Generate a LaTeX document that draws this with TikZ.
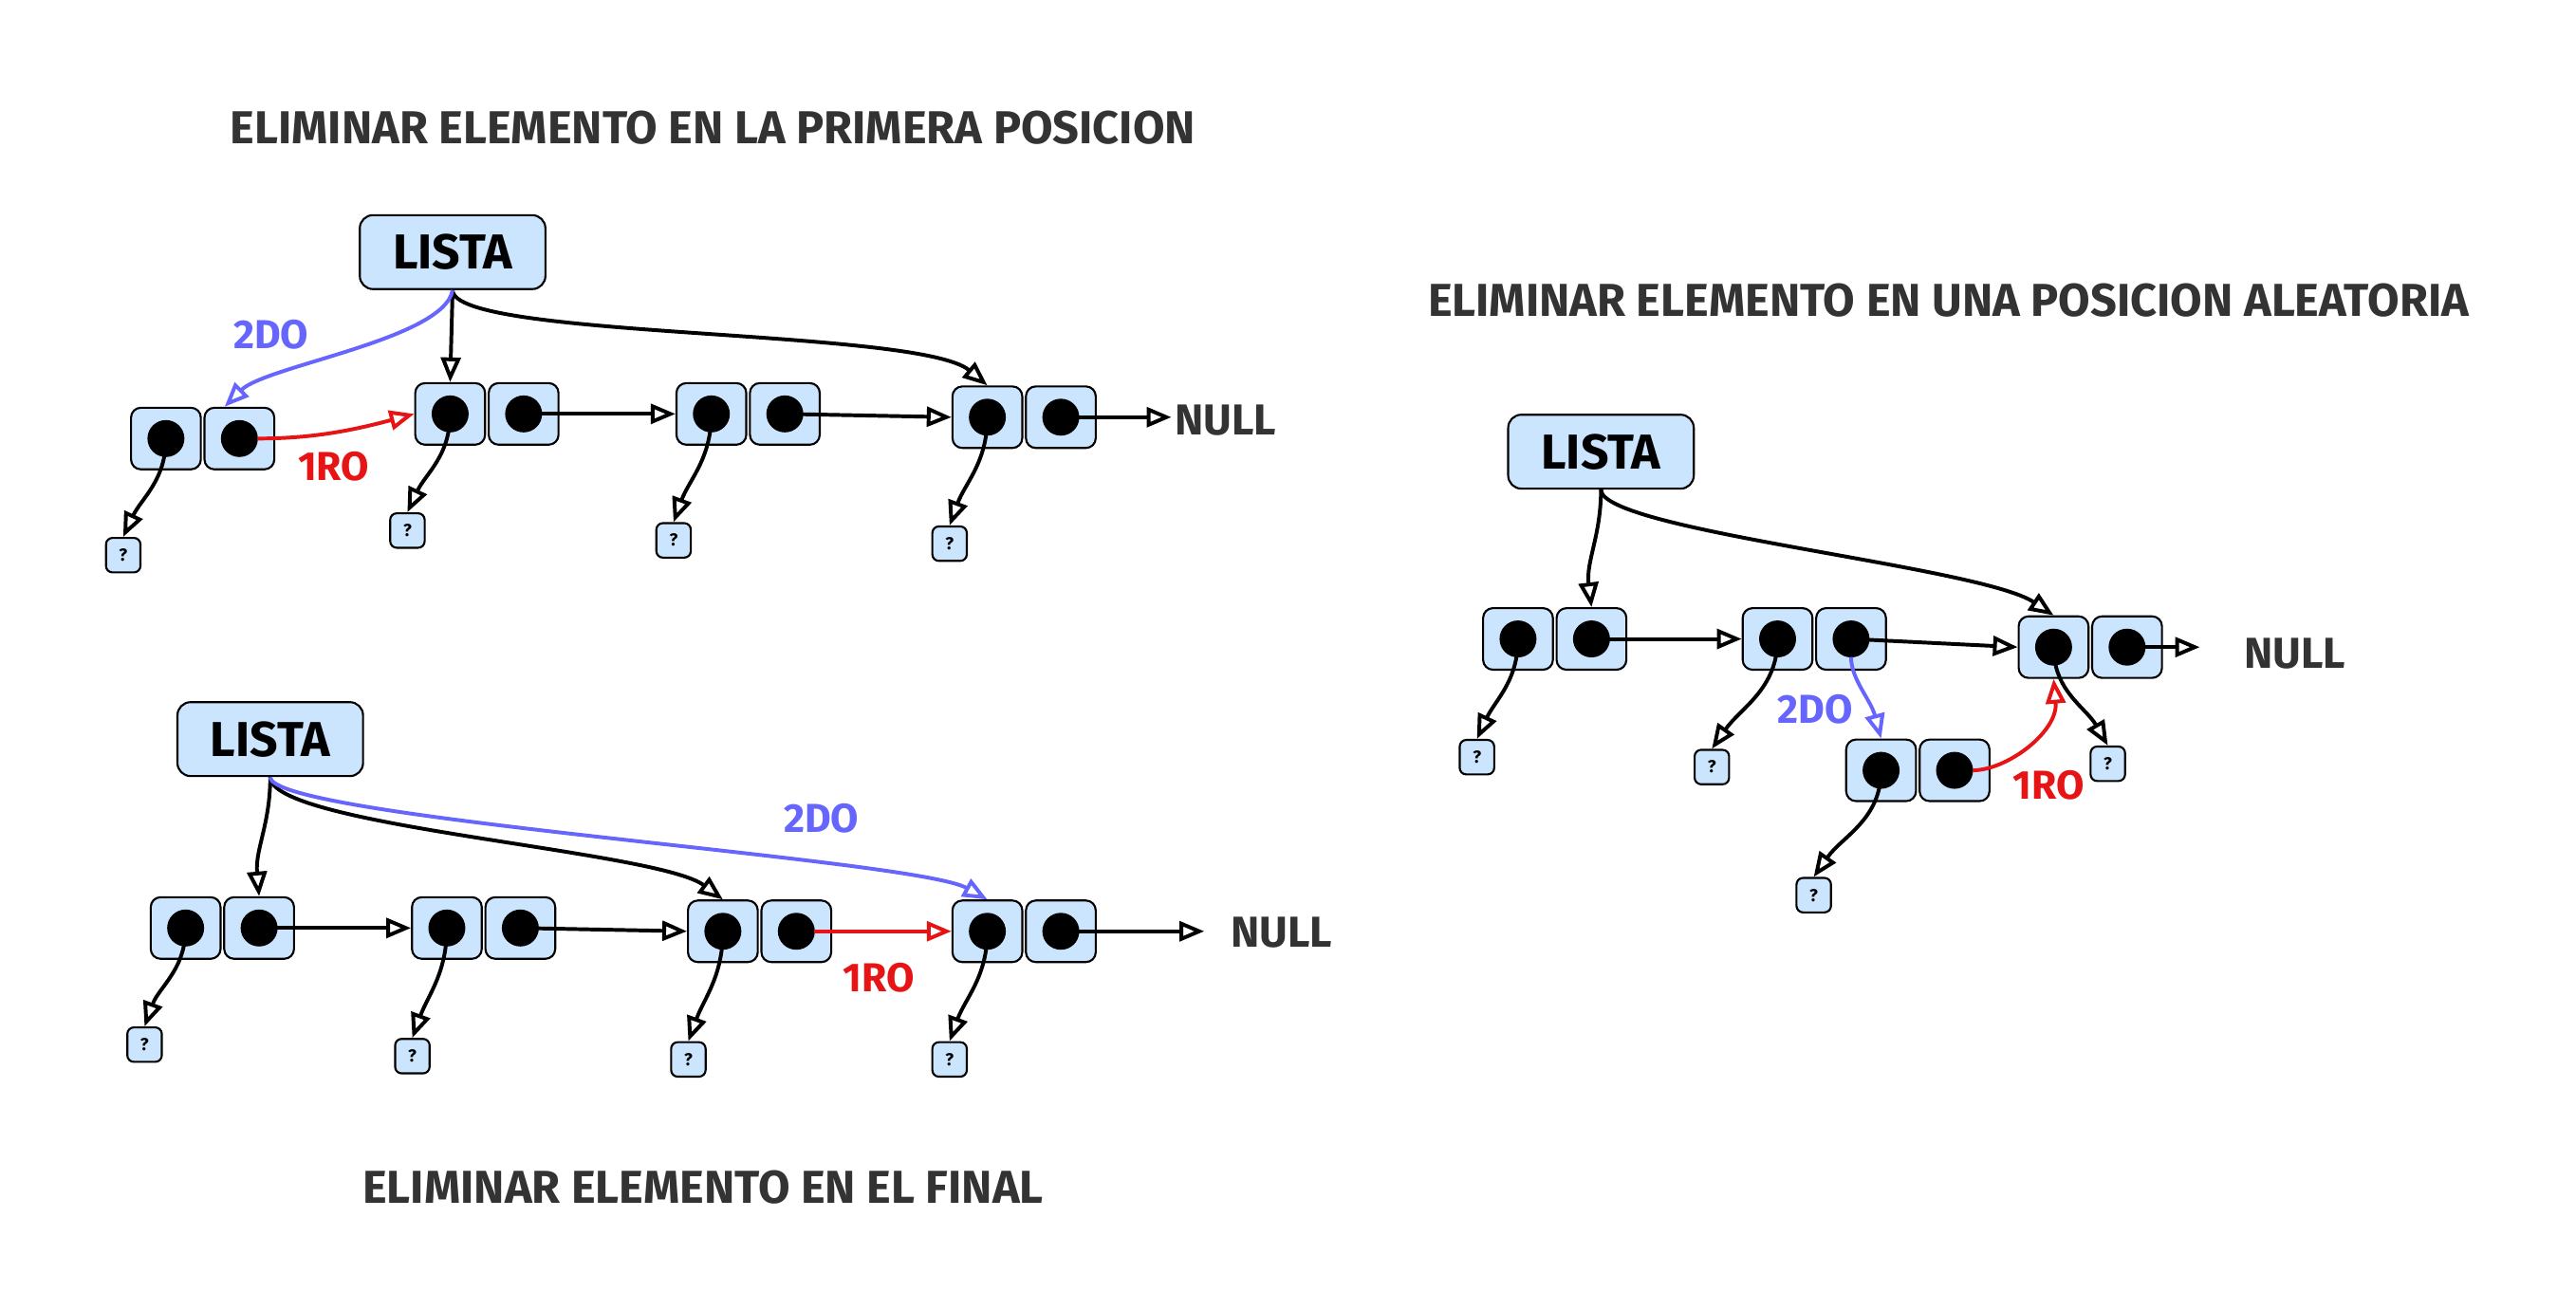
\documentclass[tikz,border=0pt]{standalone}
\usepackage{fontspec}
\setmainfont{Fira Sans}
\usepackage{xcolor}
\usetikzlibrary{arrows.meta, positioning}
\definecolor{AzulCelda}{RGB}{204,229,255}
\definecolor{AzulFlecha}{RGB}{102,102,255}
\definecolor{RojoFlecha}{RGB}{230,20,20}
\definecolor{GrisTitulo}{RGB}{51,51,51}

\begin{document}
\begin{tikzpicture}[
  x=0.02cm, y=0.02cm,
  celda/.style={rectangle, rounded corners=0.12cm, draw=black, line width=0.7pt,
                fill=AzulCelda, minimum width=0.85cm, minimum height=0.75cm,
                inner sep=0pt,
                path picture={\fill[black] (path picture bounding box.center) circle (0.225cm);}},
  incog/.style={rectangle, rounded corners=0.08cm, draw=black, line width=0.7pt,
                fill=AzulCelda, minimum size=0.42cm, inner sep=0pt,
                font=\fontsize{6}{7}\selectfont\bfseries},
  lista/.style={rectangle, rounded corners=0.16cm, draw=black, line width=0.7pt,
                fill=AzulCelda, minimum width=2.26cm, minimum height=0.9cm,
                font=\fontsize{17}{19}\selectfont\bfseries},
  titulo/.style={font=\fontsize{16}{18}\selectfont\bfseries, text=GrisTitulo},
  nulo/.style={font=\fontsize{15}{17}\selectfont\bfseries, text=GrisTitulo, inner sep=1pt},
  etiq/.style={font=\fontsize{14}{16}\selectfont\bfseries},
  flecha/.style={-{Triangle[open, length=0.3cm, width=0.24cm]}, line width=1.3pt},
  flechazul/.style={flecha, AzulFlecha, shorten <=0.22cm},
  flecharoja/.style={flecha, RojoFlecha, shorten <=0.22cm},
]
\useasboundingbox (0,0) rectangle (1568,-797);

% PRIMERA POSICION
\node[titulo] (ta) at (434,-78) {ELIMINAR ELEMENTO EN LA PRIMERA POSICION};
\node[lista] (la) at (275.5,-153.5) {LISTA};
\node[celda] (a0i) at (101,-267) {};
\node[celda, right=0.02cm of a0i] (a0d) {};
\node[celda] (a1i) at (274,-252) {};
\node[celda, right=0.02cm of a1i] (a1d) {};
\node[celda] (a2i) at (433,-252) {};
\node[celda, right=0.02cm of a2i] (a2d) {};
\node[celda] (a3i) at (601,-254) {};
\node[celda, right=0.02cm of a3i] (a3d) {};
\node[nulo, anchor=west] (na) at (713,-256) {NULL};
\node[incog] (a0q) at (75,-338) {?};
\node[incog] (a1q) at (248,-323) {?};
\node[incog] (a2q) at (410,-329) {?};
\node[incog] (a3q) at (578,-331) {?};
\node[etiq, AzulFlecha] (a2do) at (165,-204) {2DO};
\node[etiq, RojoFlecha] (a1ro) at (203,-284) {1RO};
\draw[flecha] (la.south) -- (a1i.north);
\draw[flecha] (la.south) .. controls +(0,-30) and +(-42,35) .. (a3i.north);
\draw[flecha, AzulFlecha] (la.south) .. controls +(-5,-30) and +(25,25) .. ([xshift=-0.18cm]a0d.north);
\draw[flecharoja] (a0d.center) to[out=0, in=195] (a1i.west);
\draw[flecha] (a1d.center) -- (a2i.west);
\draw[flecha] (a2d.center) -- (a3i.west);
\draw[flecha] (a3d.center) -- (a3d.center -| na.west);
\draw[flecha] (a0i.center) to[out=-90, in=65] (a0q.north);
\draw[flecha] (a1i.center) to[out=-90, in=65] (a1q.north);
\draw[flecha] (a2i.center) to[out=-90, in=70] (a2q.north);
\draw[flecha] (a3i.center) to[out=-90, in=70] (a3q.north);

% FINAL
\node[titulo] (tb) at (428,-723) {ELIMINAR ELEMENTO EN EL FINAL};
\node[lista] (lb) at (164.5,-450) {LISTA};
\node[celda] (b1i) at (113,-565) {};
\node[celda, right=0.02cm of b1i] (b1d) {};
\node[celda] (b2i) at (272,-565) {};
\node[celda, right=0.02cm of b2i] (b2d) {};
\node[celda] (b3i) at (440,-567) {};
\node[celda, right=0.02cm of b3i] (b3d) {};
\node[celda] (b4i) at (601,-567) {};
\node[celda, right=0.02cm of b4i] (b4d) {};
\node[nulo, anchor=west] (nb) at (747,-568) {NULL};
\node[incog] (b1q) at (88,-636) {?};
\node[incog] (b2q) at (251,-643) {?};
\node[incog] (b3q) at (419,-645) {?};
\node[incog] (b4q) at (578,-645) {?};
\node[etiq, AzulFlecha] (b2do) at (500,-498) {2DO};
\node[etiq, RojoFlecha] (b1ro) at (535,-595) {1RO};
\draw[flecha] (lb.south) to[out=-90, in=95] (b1d.north);
\draw[flecha] (lb.south) .. controls +(0,-30) and +(-40,30) .. (b3i.north);
\draw[flecha, AzulFlecha] (lb.south) .. controls +(0,-25) and +(-45,25) .. (b4i.north);
\draw[flecha] (b1d.center) -- (b2i.west);
\draw[flecha] (b2d.center) -- (b3i.west);
\draw[flecharoja] (b3d.center) -- (b4i.west);
\draw[flecha] (b4d.center) -- ([xshift=-0.28cm]b4d.center -| nb.west);
\draw[flecha] (b1i.center) to[out=-90, in=70] (b1q.north);
\draw[flecha] (b2i.center) to[out=-90, in=70] (b2q.north);
\draw[flecha] (b3i.center) to[out=-90, in=70] (b3q.north);
\draw[flecha] (b4i.center) to[out=-90, in=70] (b4q.north);

% POSICION ALEATORIA
\node[titulo] (tc) at (1186,-183) {ELIMINAR ELEMENTO EN UNA POSICION ALEATORIA};
\node[lista] (lc) at (974.5,-275) {LISTA};
\node[celda] (c1i) at (924,-389) {};
\node[celda, right=0.02cm of c1i] (c1d) {};
\node[celda] (c2i) at (1082,-389) {};
\node[celda, right=0.02cm of c2i] (c2d) {};
\node[celda] (c3i) at (1250,-394) {};
\node[celda, right=0.02cm of c3i] (c3d) {};
\node[celda] (c4i) at (1145,-469) {};
\node[celda, right=0.02cm of c4i] (c4d) {};
\node[nulo, anchor=west] (nc) at (1364,-398) {NULL};
\node[incog] (c1q) at (899,-461) {?};
\node[incog] (c2q) at (1042,-467) {?};
\node[incog] (c3q) at (1283,-465) {?};
\node[incog] (c4q) at (1104,-545) {?};
\node[etiq, AzulFlecha] (c2do) at (1105,-432) {2DO};
\node[etiq, RojoFlecha] (c1ro) at (1247,-478) {1RO};
\draw[flecha] (lc.south) to[out=-90, in=97] (c1d.north);
\draw[flecha] (lc.south) .. controls +(0,-25) and +(-45,30) .. (c3i.north);
\draw[flecha] (c1d.center) -- (c2i.west);
\draw[flecha] (c2d.center) -- (c3i.west);
\draw[flecha] (c3d.center) -- ([xshift=-0.5cm]c3d.center -| nc.west);
\draw[flechazul] (c2d.center) to[out=-90, in=105] (c4i.north);
\draw[flecharoja] (c4d.center) to[out=0, in=-85] (c3i.south);
\draw[flecha] (c1i.center) to[out=-90, in=65] (c1q.north);
\draw[flecha] (c2i.center) to[out=-90, in=55] (c2q.north);
\draw[flecha] (c3i.center) to[out=-90, in=120] (c3q.north);
\draw[flecha] (c4i.center) to[out=-90, in=55] (c4q.north);

\end{tikzpicture}
\end{document}
